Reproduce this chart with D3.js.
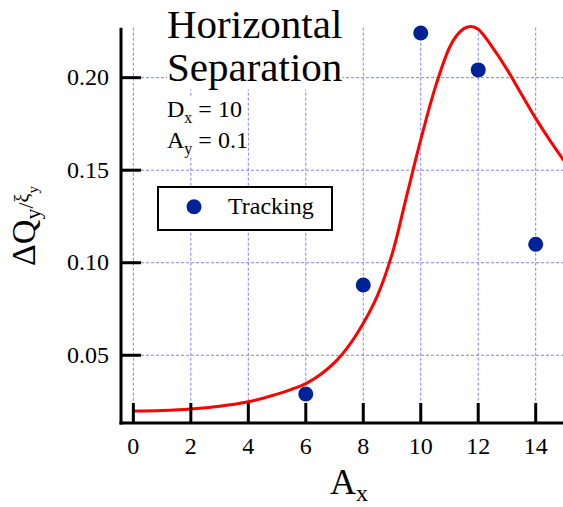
<!DOCTYPE html>
<html><head><meta charset="utf-8">
<script src="https://cdn.jsdelivr.net/npm/d3@7"></script>
<style>html,body{margin:0;padding:0;background:#fff;overflow:hidden}</style>
</head><body>
<script>
// ---- data ----
const trackingX = [6, 8, 10, 12, 14];
const trackingY = [0.0291, 0.088, 0.2241, 0.2042, 0.110];
const curveX = [0, 1, 2, 3, 4, 5, 5.5, 6, 6.5, 7, 7.5, 8, 8.5, 9, 9.5, 10, 10.5, 11, 11.25, 11.5, 11.75, 12, 12.5, 13, 13.5, 14, 14.5, 15];
const curveY = [0.0199, 0.0202, 0.0210, 0.0225, 0.0249, 0.0290, 0.0316, 0.0347, 0.0395, 0.0460, 0.0552, 0.0673, 0.0825, 0.1045, 0.1355, 0.1665, 0.1945, 0.2163, 0.2228, 0.2265, 0.2277, 0.2262, 0.2163, 0.2045, 0.1912, 0.1780, 0.1660, 0.1548];
const xTicks = [0, 2, 4, 6, 8, 10, 12, 14];
const yTicks = [0.05, 0.10, 0.15, 0.20];
const yTickLabels = ["0.05", "0.10", "0.15", "0.20"];

const W = 563, H = 507;
const FONT = "'Liberation Serif','Times New Roman',serif";
const svg = d3.select("body").append("svg").attr("width", W).attr("height", H)
  .style("font-family", FONT);

const x = d3.scaleLinear().domain([-0.43, 14.95]).range([121, 563]);
const y = d3.scaleLinear().domain([0.0134, 0.227]).range([423, 27.7]);

// grid
const grid = svg.append("g").attr("stroke", "#8080ff").attr("stroke-width", 1)
  .attr("stroke-dasharray", "3,2").attr("fill", "none");
xTicks.forEach(t => grid.append("line")
  .attr("x1", x(t)).attr("x2", x(t)).attr("y1", 27.7).attr("y2", 403));
yTicks.forEach(t => grid.append("line")
  .attr("x1", 141).attr("x2", W).attr("y1", y(t)).attr("y2", y(t)));

// title block with white backgrounds
const textG = svg.append("g");
function bgText(g, xx, yy, size, parts) {
  const t = g.append("text").attr("x", xx).attr("y", yy).attr("font-size", size).attr("fill", "#000");
  parts.forEach(p => {
    const ts = t.append("tspan").text(p.s);
    if (p.size) ts.attr("font-size", p.size);
    if (p.dy) ts.attr("dy", p.dy);
  });
  const b = t.node().getBBox();
  g.insert("rect", "text").attr("x", b.x).attr("y", b.y).attr("width", b.width).attr("height", b.height)
    .attr("fill", "#fff");
  return t;
}
bgText(textG, 167, 37.5, 41, [{s: "Horizontal"}]);
bgText(textG, 167, 80.5, 41, [{s: "Separation"}]);
bgText(textG, 167, 117, 24, [{s: "D"}, {s: "x", size: 16, dy: 6}, {s: " = 10", dy: -6}]);
bgText(textG, 167, 148, 24, [{s: "A"}, {s: "y", size: 16, dy: 6}, {s: " = 0.1", dy: -6}]);

// curve
const pts = curveX.map((d, i) => [d, curveY[i]]);
svg.append("path").datum(pts)
  .attr("d", d3.line().x(d => x(d[0])).y(d => y(d[1])).curve(d3.curveCatmullRom))
  .attr("fill", "none").attr("stroke", "#ff0000").attr("stroke-width", 3);

// points
svg.append("g").selectAll("circle").data(trackingX).join("circle")
  .attr("cx", d => x(d)).attr("cy", (d, i) => y(trackingY[i])).attr("r", 7.5)
  .attr("fill", "#002299");

// axes
const ax = svg.append("g").attr("stroke", "#000").attr("stroke-width", 3);
ax.append("line").attr("x1", 121).attr("x2", 121).attr("y1", 27.7).attr("y2", 424.5);
ax.append("line").attr("x1", 119.5).attr("x2", W).attr("y1", 423).attr("y2", 423);
xTicks.forEach(t => ax.append("line").attr("x1", x(t)).attr("x2", x(t)).attr("y1", 423).attr("y2", 403));
yTicks.forEach(t => ax.append("line").attr("x1", 121).attr("x2", 141).attr("y1", y(t)).attr("y2", y(t)));

svg.append("g").selectAll("text").data(xTicks).join("text")
  .attr("x", d => x(d)).attr("y", 454).attr("text-anchor", "middle")
  .attr("font-size", 24).text(d => d);
svg.append("g").selectAll("text").data(yTicks).join("text")
  .attr("x", 109).attr("y", d => y(d) + 7.5).attr("text-anchor", "end")
  .attr("font-size", 24).text((d, i) => yTickLabels[i]);

// legend
const lg = svg.append("g");
lg.append("rect").attr("x", 158).attr("y", 187).attr("width", 174).attr("height", 43)
  .attr("fill", "#fff").attr("stroke", "#000").attr("stroke-width", 2);
lg.append("circle").attr("cx", 194).attr("cy", 206.7).attr("r", 7.5).attr("fill", "#002299");
lg.append("text").attr("x", 228).attr("y", 214).attr("font-size", 24).text("Tracking");

// axis labels
const xl = svg.append("text").attr("x", 330).attr("y", 494).attr("font-size", 36);
xl.append("tspan").text("A");
xl.append("tspan").text("x").attr("font-size", 24).attr("dy", 7);

const yl = svg.append("text").attr("transform", "translate(35,266) rotate(-90)").attr("font-size", 34);
yl.append("tspan").text("ΔQ");
yl.append("tspan").text("y").attr("font-size", 22).attr("dy", 5);
yl.append("tspan").text("/").attr("font-size", 22).attr("dy", -7);
yl.append("tspan").text("ξ").attr("font-size", 20).attr("dy", -4);
yl.append("tspan").text("y").attr("font-size", 15).attr("dy", 9);
</script>
</body></html>
